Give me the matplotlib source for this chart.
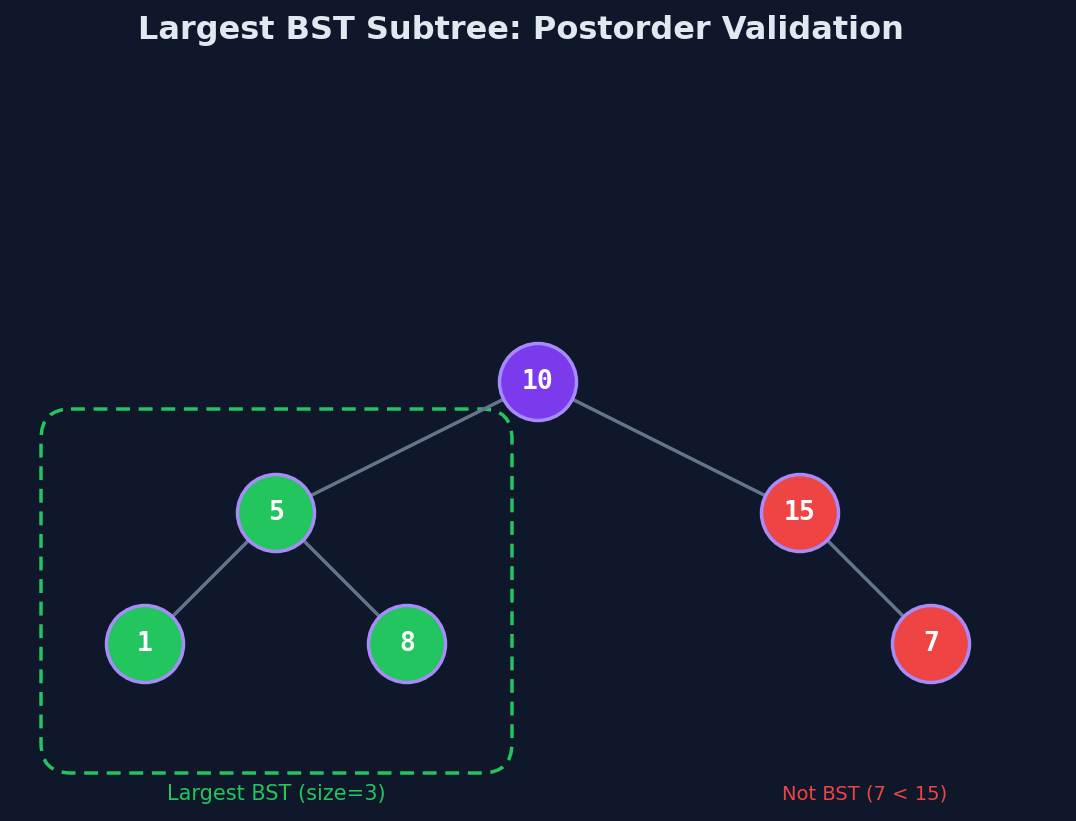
import matplotlib
matplotlib.use("Agg")
import matplotlib.pyplot as plt
from matplotlib.patches import Circle, FancyBboxPatch

BG = "#0f172a"
# tree: value, parent index, side (-1 left, +1 right)
values = [10, 5, 15, 1, 8, 7]
parents = [None, 0, 0, 1, 1, 2]
sides = [0, -1, 1, -1, 1, 1]
colors = ["#7c3aed", "#22c55e", "#ef4444", "#22c55e", "#22c55e", "#ef4444"]
title = "Largest BST Subtree: Postorder Validation"
bst_label = "Largest BST (size=3)"
bad_label = "Not BST (7 < 15)"

fig = plt.figure(figsize=(10.76, 8.21), dpi=100, facecolor=BG)
ax = fig.add_axes([0, 0, 1, 1])
ax.set_facecolor(BG)
ax.set_xlim(0, 1076)
ax.set_ylim(821, 0)
ax.axis("off")

root_x, root_y, dx, dy, r = 538, 382, 262, 131, 38.5
pos = []
for i, p in enumerate(parents):
    if p is None:
        pos.append((root_x, root_y))
    else:
        depth = 1 if parents[p] is None else 2
        px, py = pos[p]
        pos.append((px + sides[i] * dx / 2 ** (depth - 1), py + dy))

for i, p in enumerate(parents):
    if p is not None:
        ax.plot([pos[p][0], pos[i][0]], [pos[p][1], pos[i][1]], color="#64748b", lw=2.5, zorder=1)

for (x, y), v, c in zip(pos, values, colors):
    ax.add_patch(Circle((x, y), r, facecolor=c, edgecolor="#a78bfa", lw=2.5, zorder=2))
    ax.text(x, y, str(v), ha="center", va="center", color="white", fontsize=19,
            fontweight="bold", family="DejaVu Sans Mono", zorder=3)

ax.add_patch(FancyBboxPatch((41, 409), 471, 364, boxstyle="round,pad=0,rounding_size=30",
                            fill=False, edgecolor="#22c55e", lw=2.5, ls=(0, (4, 2.5)), zorder=0))
ax.text(276, 794, bst_label, ha="center", va="center", color="#22c55e", fontsize=15)
ax.text(865, 794, bad_label, ha="center", va="center", color="#ef4444", fontsize=14)
ax.text(521, 30, title, ha="center", va="center", color="#e2e8f0", fontsize=23, fontweight="bold")

fig.savefig("out.png", facecolor=BG)
